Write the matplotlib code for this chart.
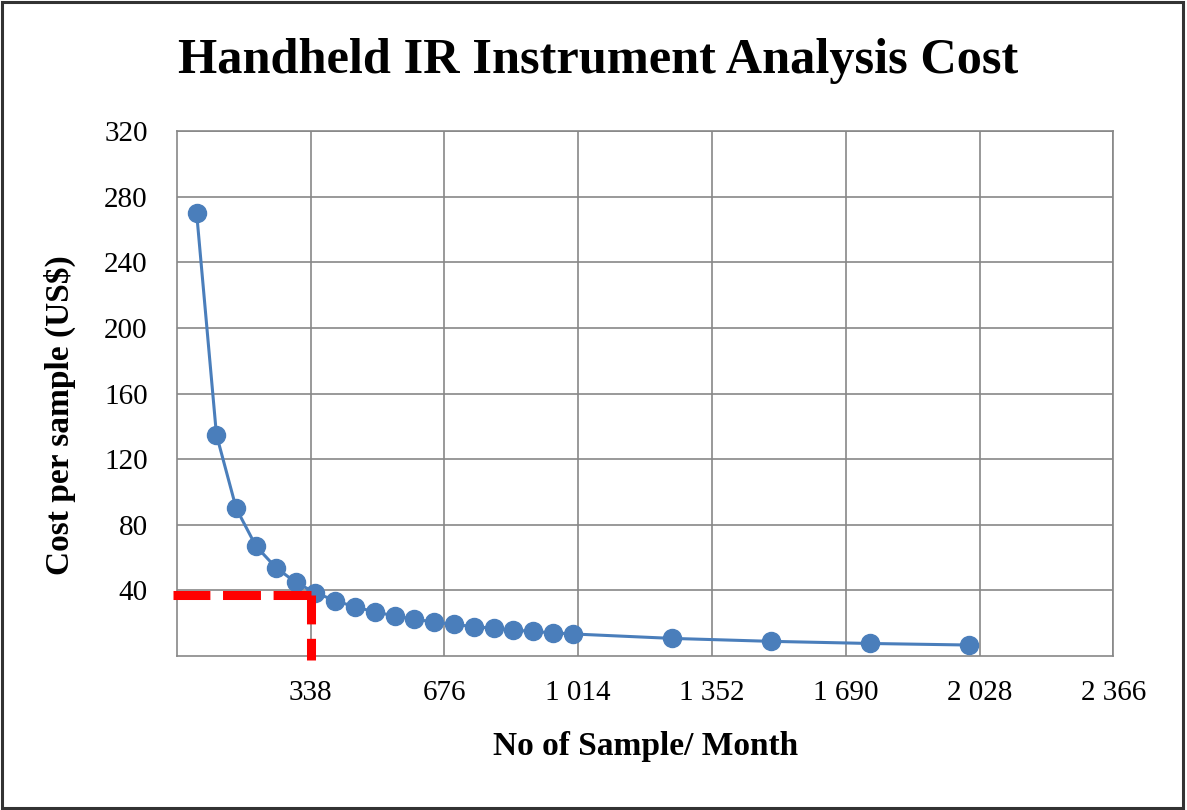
import matplotlib.pyplot as plt
from matplotlib.patches import Rectangle

# dados
amostras = [50, 100, 150, 200, 250, 300, 350, 400, 450, 500, 550, 600, 650,
            700, 750, 800, 850, 900, 950, 1000, 1250, 1500, 1750, 2000]
custo = [270, 135, 90, 67, 54, 45, 38.6, 33.8, 30, 27, 24.5, 22.5, 20.8,
         19.3, 18, 16.9, 15.9, 15, 14.2, 13.5, 10.8, 9, 7.7, 6.75]
x_ticks = [338, 676, 1014, 1352, 1690, 2028, 2366]
y_ticks = [40, 80, 120, 160, 200, 240, 280, 320]
ref_x = 338
ref_y = 37

plt.rcParams['font.family'] = ['Liberation Serif', 'DejaVu Serif']

fig = plt.figure(figsize=(11.87, 8.10), dpi=100)
ax = fig.add_axes([0.149, 0.190, 0.789, 0.648])

ax.plot(amostras, custo, color='#4A7EBB', lw=2.2, marker='o', markersize=13,
        markerfacecolor='#4A7EBB', markeredgecolor='#4A7EBB', zorder=3)

# linhas de referencia vermelhas (a partir do canto)
ax.plot([ref_x, -10], [ref_y, ref_y], color='#FF0000', lw=6.5, ls=(0, (4.2, 1.4)),
        solid_capstyle='butt', clip_on=False, zorder=4)
ax.plot([ref_x, ref_x], [ref_y, -2.5], color='#FF0000', lw=6.5, ls=(0, (3.2, 1.6)),
        solid_capstyle='butt', clip_on=False, zorder=4)

ax.set_xlim(0, 2366)
ax.set_ylim(0, 320)
ax.set_xticks(x_ticks)
ax.set_yticks(y_ticks)
ax.set_xticklabels([f'{v:,}'.replace(',', ' ') for v in x_ticks])
ax.set_yticklabels([str(v) for v in y_ticks])
ax.tick_params(length=0, labelsize=21)
ax.tick_params(axis='x', pad=17)
ax.tick_params(axis='y', pad=21)
ax.grid(True, color='#878787', lw=1.2)
ax.set_axisbelow(True)
for s in ax.spines.values():
    s.set_color('#878787')
    s.set_linewidth(1.2)

ax.set_xlabel('No of Sample/ Month', fontsize=24, fontweight='bold', labelpad=18)
ax.set_ylabel('Cost per sample (US$)', fontsize=24, fontweight='bold', labelpad=14)
ax.yaxis.set_label_coords(-0.108, 0.46)
fig.text(0.504, 0.925, 'Handheld IR Instrument Analysis Cost', ha='center', va='center',
         fontsize=36.3, fontweight='bold')

# moldura
fig.patches.append(Rectangle((0.002, 0.003), 0.995, 0.994, transform=fig.transFigure,
                             fill=False, edgecolor='#333333', lw=2.2))

fig.savefig('out.png', dpi=100)
